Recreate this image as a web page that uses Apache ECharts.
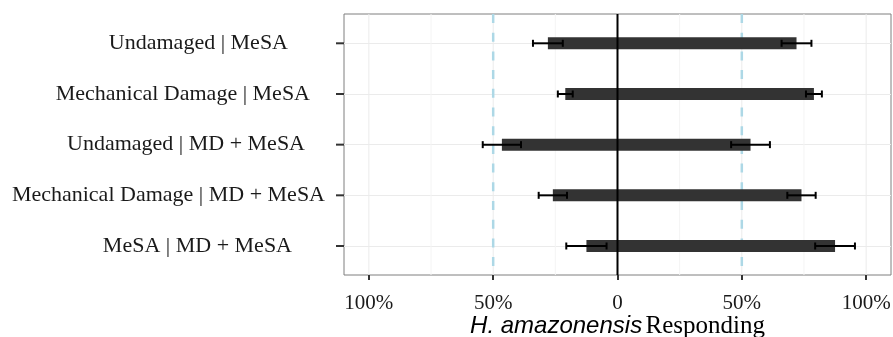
<!DOCTYPE html>
<html>
<head>
<meta charset="utf-8">
<script src="https://cdn.jsdelivr.net/npm/echarts@6/dist/echarts.min.js"></script>
<style>html,body{margin:0;padding:0;background:#fff;}#c{width:893px;height:337px;}</style>
</head>
<body>
<div id="c"></div>
<script>
const categories = ['Undamaged | MeSA','Mechanical Damage | MeSA','Undamaged | MD + MeSA','Mechanical Damage | MD + MeSA','MeSA | MD + MeSA'];
const leftValues = [-0.28, -0.21, -0.465, -0.26, -0.125];
const rightValues = [0.72, 0.79, 0.535, 0.74, 0.875];
const leftErr = [0.06, 0.03, 0.077, 0.057, 0.081];
const rightErr = [0.06, 0.032, 0.078, 0.057, 0.08];
const xTickValues = [-1, -0.5, 0, 0.5, 1];
const xTickLabels = ['100%', '50%', '0', '50%', '100%'];
const majorGrid = [-1, -0.5, 0, 0.5, 1];
const minorGrid = [-0.75, -0.25, 0.25, 0.75];
const dashedRefs = [-0.5, 0.5];
const zeroRef = [0];
const labelPad = [37, 15, 20, 0, 33];

const chart = echarts.init(document.getElementById('c'), null, {renderer: 'canvas'});

const errData = [];
categories.forEach((c, i) => {
  errData.push([leftValues[i] - leftErr[i], leftValues[i] + leftErr[i], i]);
  errData.push([rightValues[i] - rightErr[i], rightValues[i] + rightErr[i], i]);
});

const vData = majorGrid.map(v => [v, 0]).concat(minorGrid.map(v => [v, 1]));

function vlineRender(color, width, dash) {
  return function (params, api) {
    const cs = params.coordSys;
    const x = api.coord([api.value(0), 0])[0];
    return {
      type: 'line',
      shape: {x1: x, y1: cs.y, x2: x, y2: cs.y + cs.height},
      style: {stroke: color, lineWidth: width, lineDash: dash || null}
    };
  };
}

const rich = {};
labelPad.forEach((p, i) => {
  rich['p' + i] = {padding: [0, p, 0, 0], fontSize: 22, fontFamily: 'Liberation Serif', color: '#1a1a1a'};
});

chart.setOption({
  backgroundColor: '#fff',
  animation: false,
  grid: [
    {left: 344, right: 2, top: 43.3, bottom: 91, show: false, containLabel: false, outerBoundsMode: 'none'},
    {left: 344, right: 2, top: 14, bottom: 62, show: true, borderColor: '#7f7f7f', borderWidth: 1, backgroundColor: 'transparent', containLabel: false, outerBoundsMode: 'none'}
  ],
  xAxis: [
    {gridIndex: 1, type: 'value', min: -1.1, max: 1.1, position: 'bottom',
     axisLine: {show: false},
     axisTick: {show: true, customValues: xTickValues, length: 5, lineStyle: {color: '#333', width: 2}},
     axisLabel: {customValues: xTickValues, margin: 18, fontSize: 21, fontFamily: 'Liberation Serif', color: '#1a1a1a',
       formatter: function (v) { const k = xTickValues.indexOf(v); return k >= 0 ? xTickLabels[k] : ''; }},
     splitLine: {show: false},
     name: '{i|H. amazonensis} {r|Responding}',
     nameLocation: 'middle', nameGap: 39, nameMoveOverlap: false,
     nameTextStyle: {rich: {
       i: {fontFamily: 'Liberation Sans', fontStyle: 'italic', fontSize: 24, color: '#000'},
       r: {fontFamily: 'Liberation Serif', fontSize: 25, color: '#000'}
     }}
    },
    {gridIndex: 0, type: 'value', min: -1.1, max: 1.1, show: false}
  ],
  yAxis: [
    {gridIndex: 1, type: 'value', min: 0, max: 1, show: false},
    {gridIndex: 0, type: 'category', data: categories, inverse: true, boundaryGap: false,
     axisLine: {show: false},
     axisTick: {show: false},
     axisLabel: {margin: 19, formatter: function (v, i) { return '{p' + i + '|' + v + '}'; }, rich: rich},
     splitLine: {show: true, lineStyle: {color: '#ebebeb', width: 1}}
    }
  ],
  series: [
    {type: 'custom', xAxisIndex: 0, yAxisIndex: 0, z: 1, silent: true,
     data: vData,
     renderItem: function (params, api) {
       const cs = params.coordSys;
       const x = api.coord([api.value(0), 0])[0];
       const minor = api.value(1) === 1;
       return {type: 'line', shape: {x1: x, y1: cs.y, x2: x, y2: cs.y + cs.height},
         style: {stroke: minor ? '#f4f4f4' : '#ebebeb', lineWidth: 1}};
     }},
    {type: 'custom', xAxisIndex: 0, yAxisIndex: 0, z: 2, silent: true,
     data: dashedRefs.map(v => [v, 0]),
     renderItem: vlineRender('#add8e6', 2.5, [9, 9.7])},
    {type: 'bar', xAxisIndex: 1, yAxisIndex: 1, stack: 'a', barWidth: 12, z: 3, silent: true,
     itemStyle: {color: '#333333'}, data: leftValues},
    {type: 'bar', xAxisIndex: 1, yAxisIndex: 1, stack: 'a', barWidth: 12, z: 3, silent: true,
     itemStyle: {color: '#333333'}, data: rightValues},
    {type: 'custom', xAxisIndex: 1, yAxisIndex: 1, z: 4, silent: true,
     data: errData,
     renderItem: function (params, api) {
       const a = api.coord([api.value(0), api.value(2)]);
       const b = api.coord([api.value(1), api.value(2)]);
       const h = 3.5;
       const st = {stroke: '#000', lineWidth: 2};
       return {type: 'group', children: [
         {type: 'line', shape: {x1: a[0], y1: a[1], x2: b[0], y2: b[1]}, style: st},
         {type: 'line', shape: {x1: a[0], y1: a[1] - h, x2: a[0], y2: a[1] + h}, style: st},
         {type: 'line', shape: {x1: b[0], y1: b[1] - h, x2: b[0], y2: b[1] + h}, style: st}
       ]};
     }},
    {type: 'custom', xAxisIndex: 1, yAxisIndex: 1, z: 4, silent: true, clip: false,
     data: categories.map((c, i) => [i]),
     renderItem: function (params, api) {
       const cs = params.coordSys;
       const y = api.coord([0, api.value(0)])[1];
       return {type: 'line', shape: {x1: cs.x - 8, y1: y, x2: cs.x, y2: y},
         style: {stroke: '#333', lineWidth: 2}};
     }},
    {type: 'custom', xAxisIndex: 0, yAxisIndex: 0, z: 5, silent: true,
     data: zeroRef.map(v => [v, 0]),
     renderItem: vlineRender('#000', 2)}
  ]
});
</script>
</body>
</html>
